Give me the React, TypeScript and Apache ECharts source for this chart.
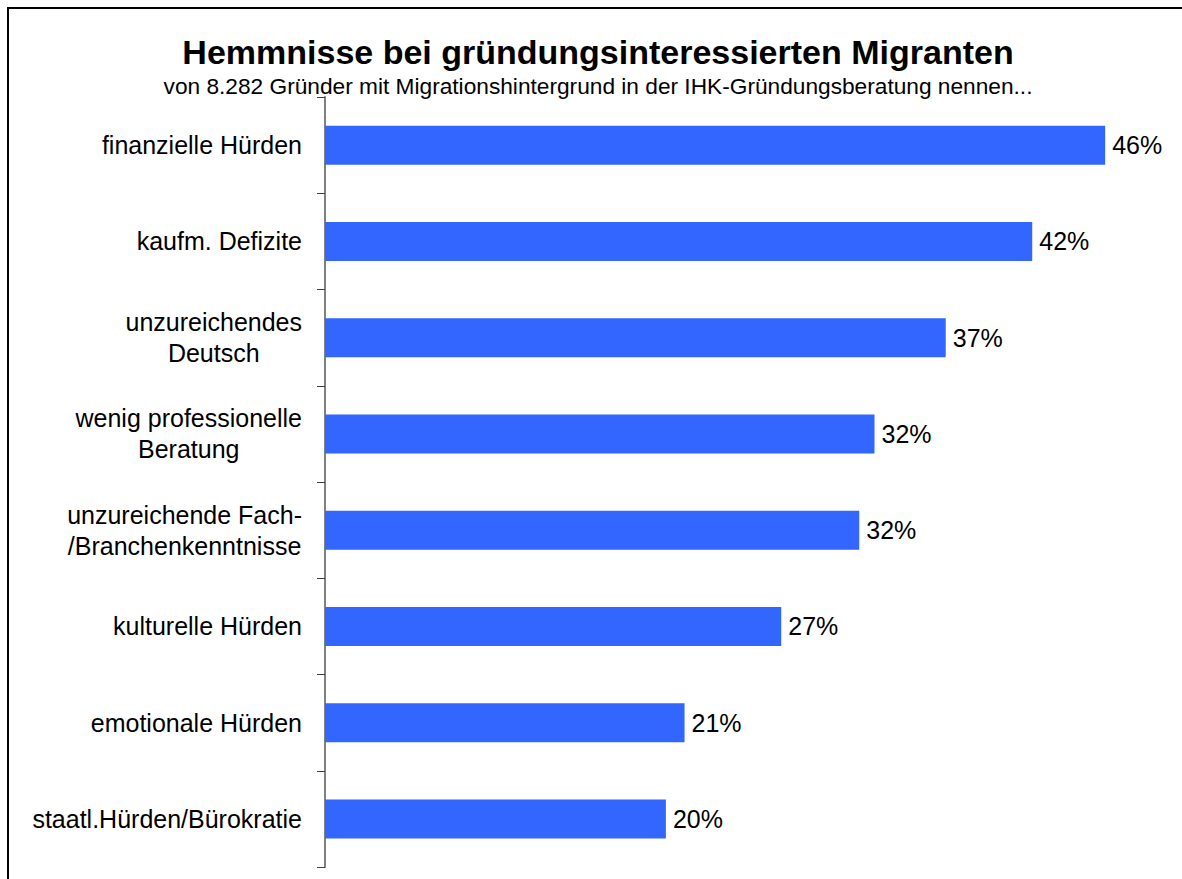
import React, { useEffect, useRef } from "react";
import * as echarts from "echarts";

const categories = [
  "finanzielle Hürden",
  "kaufm. Defizite",
  "unzureichendes\nDeutsch",
  "wenig professionelle\nBeratung",
  "unzureichende Fach-\n/Branchenkenntnisse",
  "kulturelle Hürden",
  "emotionale Hürden",
  "staatl.Hürden/Bürokratie",
];
const values = [46, 41.7, 36.6, 32.4, 31.5, 26.9, 21.2, 20.1];
const titleText = "Hemmnisse bei gründungsinteressierten Migranten";
const subtitleText =
  "von 8.282 Gründer mit Migrationshintergrund in der IHK-Gründungsberatung nennen...";

const FONT = "'Liberation Sans', Arial, sans-serif";
const LABEL_SIZE = 25;

export default function App() {
  const ref = useRef<HTMLDivElement>(null);
  useEffect(() => {
    document.body.style.margin = "0";
    if (!ref.current) return;
    const chart = echarts.init(ref.current, undefined, { renderer: "svg" });
    chart.setOption({
      animation: false,
      backgroundColor: "#ffffff",
      graphic: [
        {
          type: "rect",
          shape: { x: 8, y: 8, width: 1300, height: 1000 },
          style: { fill: "none", stroke: "#000", lineWidth: 2 },
          silent: true,
        },
        {
          type: "text",
          x: 598,
          y: 52,
          style: {
            text: titleText,
            font: `bold 34px ${FONT}`,
            fill: "#000",
            textAlign: "center",
            textVerticalAlign: "middle",
          },
        },
        {
          type: "text",
          x: 598,
          y: 86,
          style: {
            text: subtitleText,
            font: `22.7px ${FONT}`,
            fill: "#000",
            textAlign: "center",
            textVerticalAlign: "middle",
          },
        },
      ],
      grid: { left: 325, top: 97, width: 848, height: 770, containLabel: false },
      xAxis: {
        type: "value",
        min: 0,
        max: 50,
        show: false,
      },
      yAxis: {
        type: "category",
        inverse: true,
        data: categories,
        axisLine: { show: true, lineStyle: { color: "#808080", width: 2 } },
        axisTick: { show: true, length: 8, lineStyle: { color: "#404040", width: 1 } },
        axisLabel: {
          margin: 23,
          color: "#000",
          fontFamily: FONT,
          fontSize: LABEL_SIZE,
          lineHeight: 31,
          formatter: (v: string) => {
            const lines = v.split("\n");
            if (lines.length === 1) return v;
            return lines.map((l) => `{c|${l}}`).join("\n");
          },
          rich: {
            c: {
              fontFamily: FONT,
              fontSize: LABEL_SIZE,
              lineHeight: 31,
              color: "#000",
              align: "center",
            },
          },
        },
      },
      series: [
        {
          type: "bar",
          data: values,
          barWidth: 39,
          itemStyle: { color: "#3366FF" },
          label: {
            show: true,
            position: "right",
            distance: 7,
            color: "#000",
            fontFamily: FONT,
            fontSize: LABEL_SIZE,
            formatter: (p: any) => `${Math.round(p.value)}%`,
          },
        },
      ],
    });
    return () => chart.dispose();
  }, []);
  return <div ref={ref} style={{ width: 1182, height: 879 }} />;
}
